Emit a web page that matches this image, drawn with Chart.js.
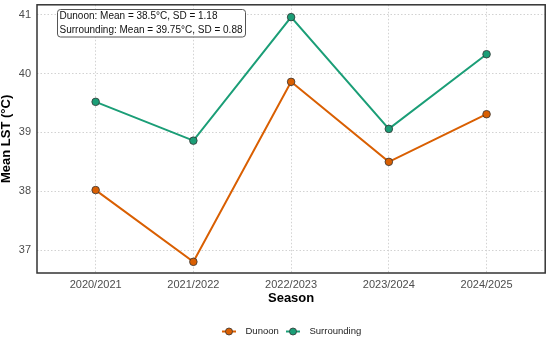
<!DOCTYPE html>
<html>
<head>
<meta charset="utf-8">
<script src="https://cdn.jsdelivr.net/npm/chart.js@4.4.1/dist/chart.umd.min.js"></script>
<style>
  html, body { margin: 0; padding: 0; background: #fff; }
  #wrap { width: 550px; height: 339px; }
</style>
</head>
<body>
<div id="wrap"><canvas id="chart"></canvas></div>
<script>
const seasons = ["2020/2021", "2021/2022", "2022/2023", "2023/2024", "2024/2025"];
const dunoon = [38.02, 36.80, 39.86, 38.50, 39.31];
const surrounding = [39.52, 38.86, 40.96, 39.06, 40.33];
const yTicks = [37, 38, 39, 40, 41];
const statsLines = [
  "Dunoon: Mean = 38.5°C, SD = 1.18",
  "Surrounding: Mean = 39.75°C, SD = 0.88"
];

const orange = "#D95F02";
const green = "#1B9E77";
const gridColor = "#d2d2d2";
const tickColor = "#4d4d4d";
const fontFamily = "'Liberation Sans', Arial, sans-serif";

function pontos(valores) {
  return valores.map((v, i) => ({ x: i, y: v }));
}

// borda do painel, caixa de estatísticas e legenda
const extras = {
  id: "extras",
  afterDraw(chart) {
    const ctx = chart.ctx;
    const a = chart.chartArea;
    ctx.save();
    ctx.strokeStyle = "#333333";
    ctx.lineWidth = 1.5;
    ctx.strokeRect(a.left, a.top, a.right - a.left, a.bottom - a.top);

    // caixa de estatísticas
    ctx.font = "10px " + fontFamily;
    const bx = 57.5, by = 9.5, bw = 188, bh = 27.5;
    ctx.beginPath();
    ctx.roundRect(bx, by, bw, bh, 3);
    ctx.fillStyle = "#fff";
    ctx.fill();
    ctx.strokeStyle = "#555";
    ctx.lineWidth = 1;
    ctx.stroke();
    ctx.fillStyle = "#111";
    ctx.textBaseline = "middle";
    ctx.textAlign = "left";
    ctx.fillText(statsLines[0], 59.5, 16);
    ctx.fillText(statsLines[1], 59.5, 30.5);

    // legenda
    const itens = [
      { label: "Dunoon", cor: orange, x: 222 },
      { label: "Surrounding", cor: green, x: 286 }
    ];
    const ly = 331.5;
    ctx.font = "9.5px " + fontFamily;
    itens.forEach(it => {
      ctx.strokeStyle = it.cor;
      ctx.lineWidth = 2;
      ctx.beginPath();
      ctx.moveTo(it.x, ly);
      ctx.lineTo(it.x + 14, ly);
      ctx.stroke();
      ctx.beginPath();
      ctx.arc(it.x + 7, ly, 3.5, 0, Math.PI * 2);
      ctx.fillStyle = it.cor;
      ctx.fill();
      ctx.strokeStyle = "#333";
      ctx.lineWidth = 0.8;
      ctx.stroke();
      ctx.fillStyle = "#222";
      ctx.fillText(it.label, it.x + 23.5, ly);
    });
    ctx.restore();
  }
};

new Chart(document.getElementById("chart"), {
  type: "line",
  data: {
    datasets: [
      {
        label: "Dunoon",
        data: pontos(dunoon),
        borderColor: orange,
        backgroundColor: orange,
        borderWidth: 2,
        pointRadius: 3.8,
        pointBorderColor: "#333",
        pointBorderWidth: 0.8,
        pointBackgroundColor: orange,
        tension: 0
      },
      {
        label: "Surrounding",
        data: pontos(surrounding),
        borderColor: green,
        backgroundColor: green,
        borderWidth: 2,
        pointRadius: 3.8,
        pointBorderColor: "#333",
        pointBorderWidth: 0.8,
        pointBackgroundColor: green,
        tension: 0
      }
    ]
  },
  options: {
    responsive: true,
    maintainAspectRatio: false,
    animation: false,
    layout: {
      padding: { top: 4, right: 4, bottom: 33, left: 0 }
    },
    plugins: {
      legend: { display: false },
      tooltip: { enabled: false }
    },
    scales: {
      x: {
        type: "linear",
        min: -0.6,
        max: 4.6,
        afterBuildTicks: axis => {
          axis.ticks = seasons.map((s, i) => ({ value: i }));
        },
        afterFit: axis => {
          axis.height = 33;
          axis.paddingLeft = 0;
          axis.paddingRight = 0;
        },
        grid: {
          color: gridColor,
          lineWidth: 1,
          drawTicks: false
        },
        border: { display: false, dash: [1.5, 2] },
        ticks: {
          padding: 5,
          color: tickColor,
          font: { size: 11, family: fontFamily },
          callback: v => seasons[v]
        },
        title: {
          display: true,
          text: "Season",
          color: "#000",
          font: { size: 13, weight: "bold", family: fontFamily },
          padding: { top: 0, bottom: 0 }
        }
      },
      y: {
        min: 36.61,
        max: 41.17,
        afterBuildTicks: axis => {
          axis.ticks = yTicks.map(v => ({ value: v }));
        },
        afterFit: axis => {
          axis.width = 37;
          axis.paddingTop = 0;
          axis.paddingBottom = 0;
        },
        grid: {
          color: gridColor,
          lineWidth: 1,
          drawTicks: false
        },
        border: { display: false, dash: [1.5, 2] },
        ticks: {
          padding: 6,
          color: tickColor,
          font: { size: 11, family: fontFamily },
          callback: v => String(v)
        },
        title: {
          display: true,
          text: "Mean LST (°C)",
          color: "#000",
          font: { size: 13, weight: "bold", family: fontFamily, lineHeight: 1 },
          padding: { top: 0, bottom: 0 }
        }
      }
    }
  },
  plugins: [extras]
});
</script>
</body>
</html>
